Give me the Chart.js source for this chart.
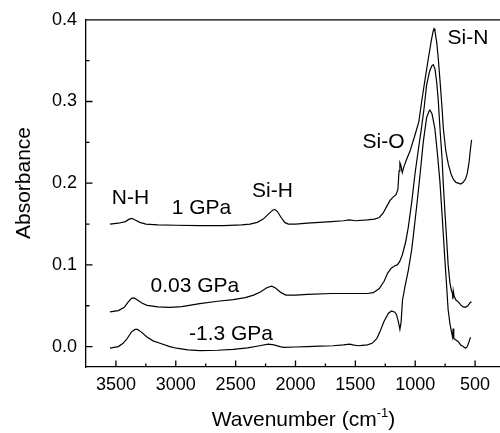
<!DOCTYPE html>
<html><head><meta charset="utf-8">
<script src="https://cdn.jsdelivr.net/npm/chart.js@4"></script>
<style>
html,body{margin:0;padding:0;overflow:hidden;background:#fff;width:500px;height:433px}
#wrap{position:absolute;left:0;top:0;width:510px;height:433px}
</style>
</head><body><div id="wrap"><canvas id="c"></canvas></div>
<script>
// ---- data ----
const WN_1GPA = [3550,3480,3420,3390,3365,3340,3300,3250,3150,3000,2800,2600,2450,2380,2320,2270,2220,2190,2172,2150,2120,2090,2060,2000,1900,1800,1700,1600,1550,1500,1400,1340,1300,1270,1240,1210,1185,1160,1145,1135,1128,1120,1108,1095,1070,1044,1002,970,946,920,891,865,850,843,835,820,807,790,775,765,745,723,700,682,660,640,620,599,580,565,549,540,529];
const ABS_1GPA = [0.150,0.151,0.153,0.156,0.157,0.155,0.152,0.150,0.149,0.1485,0.148,0.148,0.149,0.150,0.152,0.156,0.163,0.167,0.168,0.165,0.158,0.152,0.150,0.150,0.151,0.152,0.153,0.154,0.155,0.154,0.155,0.156,0.158,0.163,0.171,0.179,0.183,0.186,0.192,0.215,0.225,0.222,0.213,0.220,0.230,0.239,0.259,0.275,0.300,0.325,0.352,0.375,0.386,0.389,0.386,0.372,0.352,0.320,0.290,0.267,0.240,0.223,0.211,0.205,0.201,0.200,0.199,0.201,0.205,0.212,0.227,0.240,0.253];

const WN_003GPA = [3550,3480,3430,3400,3370,3349,3320,3280,3240,3150,3050,2950,2800,2650,2520,2420,2350,2290,2240,2200,2170,2120,2080,2000,1900,1700,1550,1400,1350,1300,1260,1230,1200,1170,1150,1130,1106,1080,1058,1030,1003,975,948,925,905,880,860,849,835,820,807,790,775,765,750,737,725,710,697,690,685,682,675,660,640,620,599,580,560,540,530];
const ABS_003GPA = [0.0425,0.044,0.048,0.054,0.059,0.0595,0.057,0.053,0.0505,0.0485,0.048,0.049,0.0525,0.0555,0.0575,0.060,0.063,0.067,0.072,0.074,0.072,0.066,0.063,0.063,0.064,0.065,0.065,0.065,0.066,0.071,0.080,0.090,0.096,0.099,0.100,0.104,0.113,0.128,0.146,0.176,0.210,0.240,0.267,0.293,0.320,0.337,0.344,0.345,0.340,0.323,0.300,0.260,0.228,0.198,0.160,0.130,0.100,0.078,0.068,0.066,0.058,0.068,0.062,0.057,0.0547,0.051,0.0486,0.048,0.050,0.054,0.055];

const WN_M13GPA = [3550,3480,3440,3410,3370,3340,3320,3290,3243,3190,3132,3050,2993,2900,2798,2650,2520,2400,2300,2228,2180,2130,2100,2000,1900,1800,1686,1600,1547,1520,1480,1440,1400,1360,1320,1295,1260,1225,1198,1170,1156,1140,1128,1118,1106,1086,1058,1030,1017,983,960,933,905,885,877,860,836,815,794,775,752,738,725,710,697,688,683,678,660,640,620,599,580,565,550,538];
const ABS_M13GPA = [-0.002,0.000,0.004,0.009,0.018,0.021,0.021,0.018,0.012,0.007,0.004,0.000,-0.002,-0.004,-0.005,-0.0045,-0.0035,-0.0015,0.001,0.003,0.002,0.000,-0.001,-0.0005,0.000,0.0005,0.001,0.002,0.003,0.002,0.001,0.0015,0.002,0.004,0.010,0.018,0.031,0.0405,0.0435,0.042,0.039,0.030,0.021,0.030,0.057,0.073,0.093,0.118,0.134,0.178,0.210,0.250,0.280,0.288,0.2895,0.285,0.267,0.237,0.2025,0.160,0.106,0.075,0.045,0.028,0.018,0.012,0.022,0.010,0.008,0.006,0.002,0.000,-0.002,0.000,0.006,0.0114];

const X_TICKS = [3500,3000,2500,2000,1500,1000,500];
const X_MINOR = [3250,2750,2250,1750,1250,750];
const Y_TICKS = [0.0,0.1,0.2,0.3,0.4];
const Y_MINOR = [0.05,0.15,0.25,0.35];

const ANNOT_TEXT = ['Si-N','Si-O','N-H','1 GPa','Si-H','0.03 GPa','-1.3 GPa'];
const ANNOT_WN   = [559,1265,3378,2785,2192,2840,2539];
const ANNOT_ABS  = [0.377,0.250,0.182,0.169,0.190,0.0737,0.0148];

const FONT = '"Liberation Sans", Arial, Helvetica, sans-serif';

function pts(xs, ys){ return xs.map((x,i)=>({x:x, y:ys[i]})); }
function ds(label, xs, ys){
  return {label, data: pts(xs,ys), borderColor:'#000', borderWidth:1.2, pointRadius:0, tension:0, fill:false};
}

const decor = {
  id:'decor',
  afterDraw(chart){
    const ctx = chart.ctx, a = chart.chartArea, sx = chart.scales.x, sy = chart.scales.y;
    ctx.save();
    ctx.strokeStyle = '#000'; ctx.lineWidth = 1.3;
    ctx.beginPath();
    ctx.moveTo(a.left, a.top); ctx.lineTo(a.right, a.top);
    X_TICKS.forEach(v=>{const p=sx.getPixelForValue(v); ctx.moveTo(p,a.bottom); ctx.lineTo(p,a.bottom-6.5);});
    X_MINOR.forEach(v=>{const p=sx.getPixelForValue(v); ctx.moveTo(p,a.bottom); ctx.lineTo(p,a.bottom-3.5);});
    Y_TICKS.forEach(v=>{const p=sy.getPixelForValue(v); ctx.moveTo(a.left,p); ctx.lineTo(a.left+6.5,p);});
    Y_MINOR.forEach(v=>{const p=sy.getPixelForValue(v); ctx.moveTo(a.left,p); ctx.lineTo(a.left+3.5,p);});
    ctx.stroke();
    ctx.fillStyle = '#000';
    ctx.font = '21px ' + FONT; ctx.textAlign='center'; ctx.textBaseline='middle';
    ANNOT_TEXT.forEach((t,i)=>{ ctx.fillText(t, sx.getPixelForValue(ANNOT_WN[i]), sy.getPixelForValue(ANNOT_ABS[i])); });
    ctx.save();
    ctx.translate(24, 183); ctx.rotate(-Math.PI/2);
    ctx.font = '21px ' + FONT; ctx.textAlign='center'; ctx.textBaseline='middle';
    ctx.fillText('Absorbance', 0, 0);
    ctx.restore();
    ctx.textAlign='left'; ctx.textBaseline='alphabetic';
    const base = 425.7;
    ctx.font = '21px ' + FONT;
    const t1 = 'Wavenumber (cm';
    const w1 = ctx.measureText(t1).width;
    ctx.font = '13px ' + FONT;
    const t2 = '-1';
    const w2 = ctx.measureText(t2).width;
    ctx.font = '21px ' + FONT;
    const w3 = ctx.measureText(')').width;
    const total = w1 + w2 + w3;
    let x0 = 303.5 - total/2;
    ctx.fillText(t1, x0, base);
    ctx.font = '13px ' + FONT;
    ctx.fillText(t2, x0 + w1, base - 9);
    ctx.font = '21px ' + FONT;
    ctx.fillText(')', x0 + w1 + w2, base);
    ctx.restore();
  }
};

new Chart(document.getElementById('c'), {
  type:'line',
  data:{ datasets:[ ds('1 GPa', WN_1GPA, ABS_1GPA), ds('0.03 GPa', WN_003GPA, ABS_003GPA), ds('-1.3 GPa', WN_M13GPA, ABS_M13GPA) ] },
  options:{
    responsive:true, maintainAspectRatio:false, animation:false,
    layout:{ padding:{ top:17, right:5, left:0, bottom:0 } },
    plugins:{ legend:{display:false}, tooltip:{enabled:false} },
    scales:{
      x:{ type:'linear', min:250, max:3750, reverse:true,
          afterBuildTicks: s=>{ s.ticks = X_TICKS.map(v=>({value:v})); },
          afterFit: s=>{ s.height = 66; },
          grid:{ display:true, drawOnChartArea:false, drawTicks:false },
          border:{ display:true, color:'#000', width:1.3 },
          ticks:{ color:'#000', padding:7, maxRotation:0, autoSkip:false, font:{ size:18, family:FONT }, callback:v=>String(v) } },
      y:{ type:'linear', min:-0.025, max:0.4,
          afterBuildTicks: s=>{ s.ticks = Y_TICKS.map(v=>({value:v})); },
          afterFit: s=>{ s.width = 86; },
          grid:{ display:true, drawOnChartArea:false, drawTicks:false },
          border:{ display:true, color:'#000', width:1.3 },
          ticks:{ color:'#000', padding:9, autoSkip:false, font:{ size:18, family:FONT }, callback:v=>Number(v).toFixed(1) } }
    }
  },
  plugins:[decor]
});
</script>
</body></html>
